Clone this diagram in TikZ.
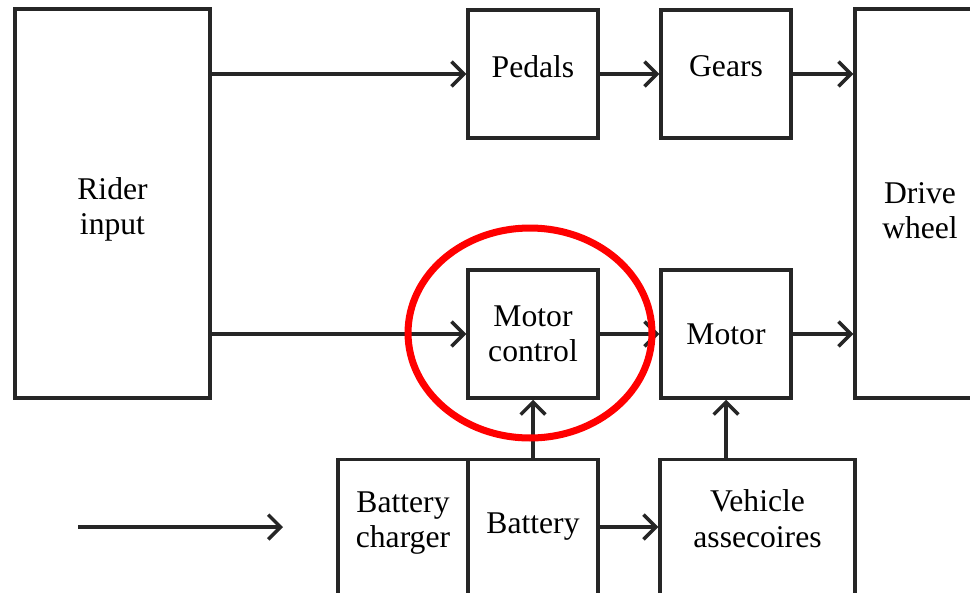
\documentclass[tikz,border=0pt]{standalone}
\usepackage{fontspec}
\setmainfont{Liberation Serif}
\usetikzlibrary{arrows.meta, positioning, shapes.geometric}

\begin{document}
\begin{tikzpicture}[x=0.02cm, y=-0.02cm,
        blk/.style={rectangle, draw=black!85, fill=white, line width=2pt, align=center, inner sep=0pt, font=\fontsize{18}{20}\selectfont},
        small/.style={blk, minimum width=2.6cm, minimum height=2.56cm},
        arrow/.style={draw, -{Straight Barb[length=7pt, width=14pt]}, line width=2pt, color=black!85},
        ring/.style={ellipse, draw=red, line width=4pt, inner sep=0pt, minimum width=4.88cm, minimum height=4.2cm}
    ]

        % Rahmen (970 x 592 px)
        \useasboundingbox (0,0) rectangle (970,592);
        \clip (0,0) rectangle (970,592);

        % Linke Spalte und Antriebsrad
        \node [blk, minimum width=3.9cm, minimum height=7.78cm] (rider) at (112.5,203.5) {\rule{0pt}{19.5pt}Rider\\input};
        \node [blk, minimum width=2.6cm, minimum height=7.78cm] (drive) at (920,203.5) {\rule{0pt}{20.5pt}Drive\\wheel};

        % Obere Reihe
        \node [small] (pedals) at (533,74) {Pedals\rule[-8.6pt]{0pt}{0pt}};
        \node [small] (gears) at (726,74) {Gears\rule[-8.6pt]{0pt}{0pt}};

        % Mittlere Reihe
        \node [small] (ctrl) at (533,334) {Motor\\control};
        \node [small] (motor) at (726,334) {Motor};

        % Untere Reihe (unten abgeschnitten)
        \node [blk, minimum width=2.6cm, minimum height=2.7cm] (charger) at (403,527) {Battery\\charger\rule[-8pt]{0pt}{0pt}};
        \node [blk, minimum width=2.6cm, minimum height=2.7cm] (battery) at (533,527) {Battery};
        \node [blk, minimum width=3.9cm, minimum height=2.7cm] (vehicle) at (757.5,527) {Vehicle\\assecoires\rule[-9.6pt]{0pt}{0pt}};

        % Freier Pfeil links unten
        \coordinate (srcA) at (78,527);
        \coordinate (srcB) at (283,527);
        \draw [arrow] (srcA) -- (srcB);

        % Verbindungen
        \draw [arrow] (rider.east |- pedals) -- (pedals.west);
        \draw [arrow] (pedals) -- (gears);
        \draw [arrow] (gears) -- (gears -| drive.west);
        \draw [arrow] (rider.east |- ctrl) -- (ctrl.west);
        \draw [arrow] (ctrl) -- (motor);
        \draw [arrow] (motor) -- (motor -| drive.west);
        \draw [arrow] (battery.north) -- (ctrl.south);
        \draw [arrow] (vehicle.north -| motor) -- (motor.south);
        \draw [arrow] (battery) -- (vehicle);

        % Markierung
        \node [ring] (focus) at (530,333) {};

    \end{tikzpicture}
\end{document}
